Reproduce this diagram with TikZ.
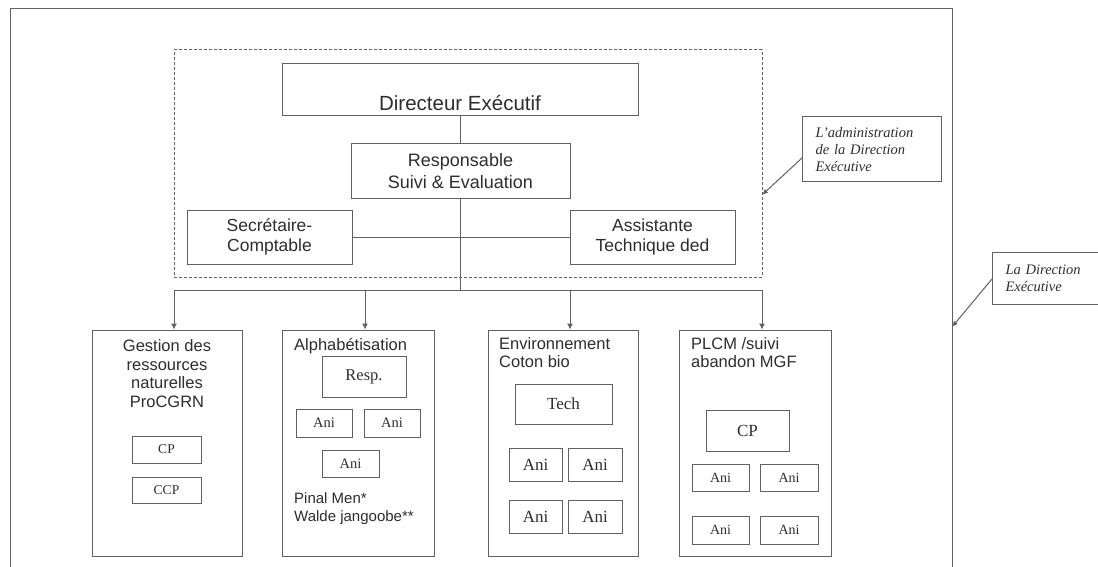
\documentclass[tikz,border=0pt]{standalone}
\usepackage{fontspec}
\setmainfont{Liberation Sans}
\newfontfamily\tnr{Liberation Serif}
\usetikzlibrary{arrows.meta}
\definecolor{ln}{gray}{0.38}
\definecolor{tx}{gray}{0.18}
\tikzset{
  box/.style={draw=ln, line width=1pt, rectangle, inner sep=0pt, text=tx},
  conn/.style={draw=ln, line width=1pt},
  arr/.style={conn, -{Latex[length=6pt,width=6pt]}},
  bigtxt/.style={font=\fontsize{18}{22}\selectfont, align=center, text=tx, inner sep=0pt},
  midtxt/.style={font=\fontsize{16.5}{18.5}\selectfont, text=tx, inner sep=0pt},
  sertxt/.style={font=\tnr\fontsize{#1}{#1}\selectfont},
  note/.style={box, font=\tnr\itshape\fontsize{14.5}{17}\selectfont, align=left, inner xsep=13pt, anchor=west},
}
\begin{document}
\begin{tikzpicture}[x=1pt,y=-1pt]
\clip (0,0) rectangle (1098,567);
\fill[white] (0,0) rectangle (1098,567);
% outer frame (La Direction Executive)
\draw[conn] (10,567) -- (10,9) -- (952,9) -- (952,567);
\coordinate (frameR) at (952,327);
% administration dashed frame
\node[draw=ln, line width=1pt, dash pattern=on 3pt off 2pt, minimum width=588pt, minimum height=227pt, inner sep=0pt] (admin) at (468,163.5) {};
\coordinate (adminR) at (762,195);
% top boxes
\node[box, minimum width=356pt, minimum height=52pt] (dir) at (460,90) {};
\node[bigtxt, font=\fontsize{20.5}{22}\selectfont] (dirtxt) at (460,103) {Directeur Exécutif};
\node[box, bigtxt, draw=ln, line width=1pt, minimum width=219pt, minimum height=54pt] (resp) at (460.5,171) {Responsable\\Suivi \& Evaluation};
\node[box, bigtxt, draw=ln, line width=1pt, font=\fontsize{17.5}{19.5}\selectfont, minimum width=165pt, minimum height=54pt] (sec) at (269.5,237) {Secrétaire-\\Comptable};
\node[box, bigtxt, draw=ln, line width=1pt, font=\fontsize{17.5}{19.5}\selectfont, minimum width=165pt, minimum height=54pt] (asst) at (652.5,237) {Assistante\\Technique ded};
\draw[conn] (dir.south -| resp.north) -- (resp.north);
\draw[conn] (sec.east) -- (asst.west);
% bus
\coordinate (busC) at (460.5,290);
\coordinate (a1) at (174,290);
\coordinate (a2) at (365,290);
\coordinate (a3) at (570,290);
\coordinate (a4) at (762,290);
\draw[conn] (resp.south) -- (busC);
\draw[conn] (a1) -- (a4);
% bottom boxes
\node[box, minimum width=150pt, minimum height=226pt] (b1) at (167,443) {};
\node[box, minimum width=152pt, minimum height=226pt] (b2) at (358,443) {};
\node[box, minimum width=150pt, minimum height=226pt] (b3) at (563,443) {};
\node[box, minimum width=152pt, minimum height=226pt] (b4) at (755,443) {};
\draw[arr] (a1) -- (a1 |- b1.north);
\draw[arr] (a2) -- (a2 |- b2.north);
\draw[arr] (a3) -- (a3 |- b3.north);
\draw[arr] (a4) -- (a4 |- b4.north);
% box 1
\node[midtxt, align=center] (t1) at (167,373.5) {Gestion des\\ressources\\naturelles\\ProCGRN};
\node[box, sertxt=13.5, minimum width=69pt, minimum height=27pt] (b1cp) at (166.5,449.5) {CP};
\node[box, sertxt=13.5, minimum width=69pt, minimum height=26pt] (b1ccp) at (166.5,490) {CCP};
% box 2
\node[midtxt, anchor=west] (t2) at (294,346) {Alphabétisation};
\node[box, sertxt=16.5, minimum width=84pt, minimum height=41pt] (b2r) at (364,376.5) {Resp.};
\node[box, sertxt=14.5, minimum width=56pt, minimum height=28pt] (b2a1) at (324,423) {Ani};
\node[box, sertxt=14.5, minimum width=56pt, minimum height=28pt] (b2a2) at (392,423) {Ani};
\node[box, sertxt=14.5, minimum width=57pt, minimum height=27pt] (b2a3) at (350.5,463.5) {Ani};
\node[midtxt, font=\fontsize{15}{18}\selectfont, align=left, anchor=north west] (t2b) at (294,492) {Pinal Men*\\Walde jangoobe**};
% box 3
\node[midtxt, align=left, anchor=north west] (t3) at (499,337) {Environnement\\Coton bio};
\node[box, sertxt=17, minimum width=97pt, minimum height=40pt] (b3t) at (563.5,404) {Tech};
\node[box, sertxt=17, minimum width=53pt, minimum height=33pt] (b3a1) at (535.5,464.5) {Ani};
\node[box, sertxt=17, minimum width=54pt, minimum height=33pt] (b3a2) at (595,464.5) {Ani};
\node[box, sertxt=17, minimum width=53pt, minimum height=33pt] (b3a3) at (535.5,516.5) {Ani};
\node[box, sertxt=17, minimum width=54pt, minimum height=33pt] (b3a4) at (595,516.5) {Ani};
% box 4
\node[midtxt, align=left, anchor=north west] (t4) at (691,337) {PLCM /suivi\\abandon MGF};
\node[box, sertxt=17, minimum width=83pt, minimum height=41pt] (b4cp) at (747.5,430.5) {CP};
\node[box, sertxt=14, minimum width=57pt, minimum height=27pt] (b4a1) at (720.5,477.5) {Ani};
\node[box, sertxt=14, minimum width=58pt, minimum height=27pt] (b4a2) at (789,477.5) {Ani};
\node[box, sertxt=14, minimum width=57pt, minimum height=28pt] (b4a3) at (720.5,530) {Ani};
\node[box, sertxt=14, minimum width=58pt, minimum height=28pt] (b4a4) at (789,530) {Ani};
% callouts
\node[note, text width=113pt, minimum height=65pt] (n1) at (802,149.5) {L’administration\\de la Direction\\Exécutive};
\node[note, text width=100pt, minimum height=52pt] (n2) at (992,278) {La Direction\\Exécutive};
\draw[conn, -{Latex[length=6pt,width=5pt]}] (n1.west |- 0,158) -- (adminR);
\draw[conn, -{Latex[length=6pt,width=5pt]}] (n2.west |- 0,279) -- (frameR);
\end{tikzpicture}
\end{document}
